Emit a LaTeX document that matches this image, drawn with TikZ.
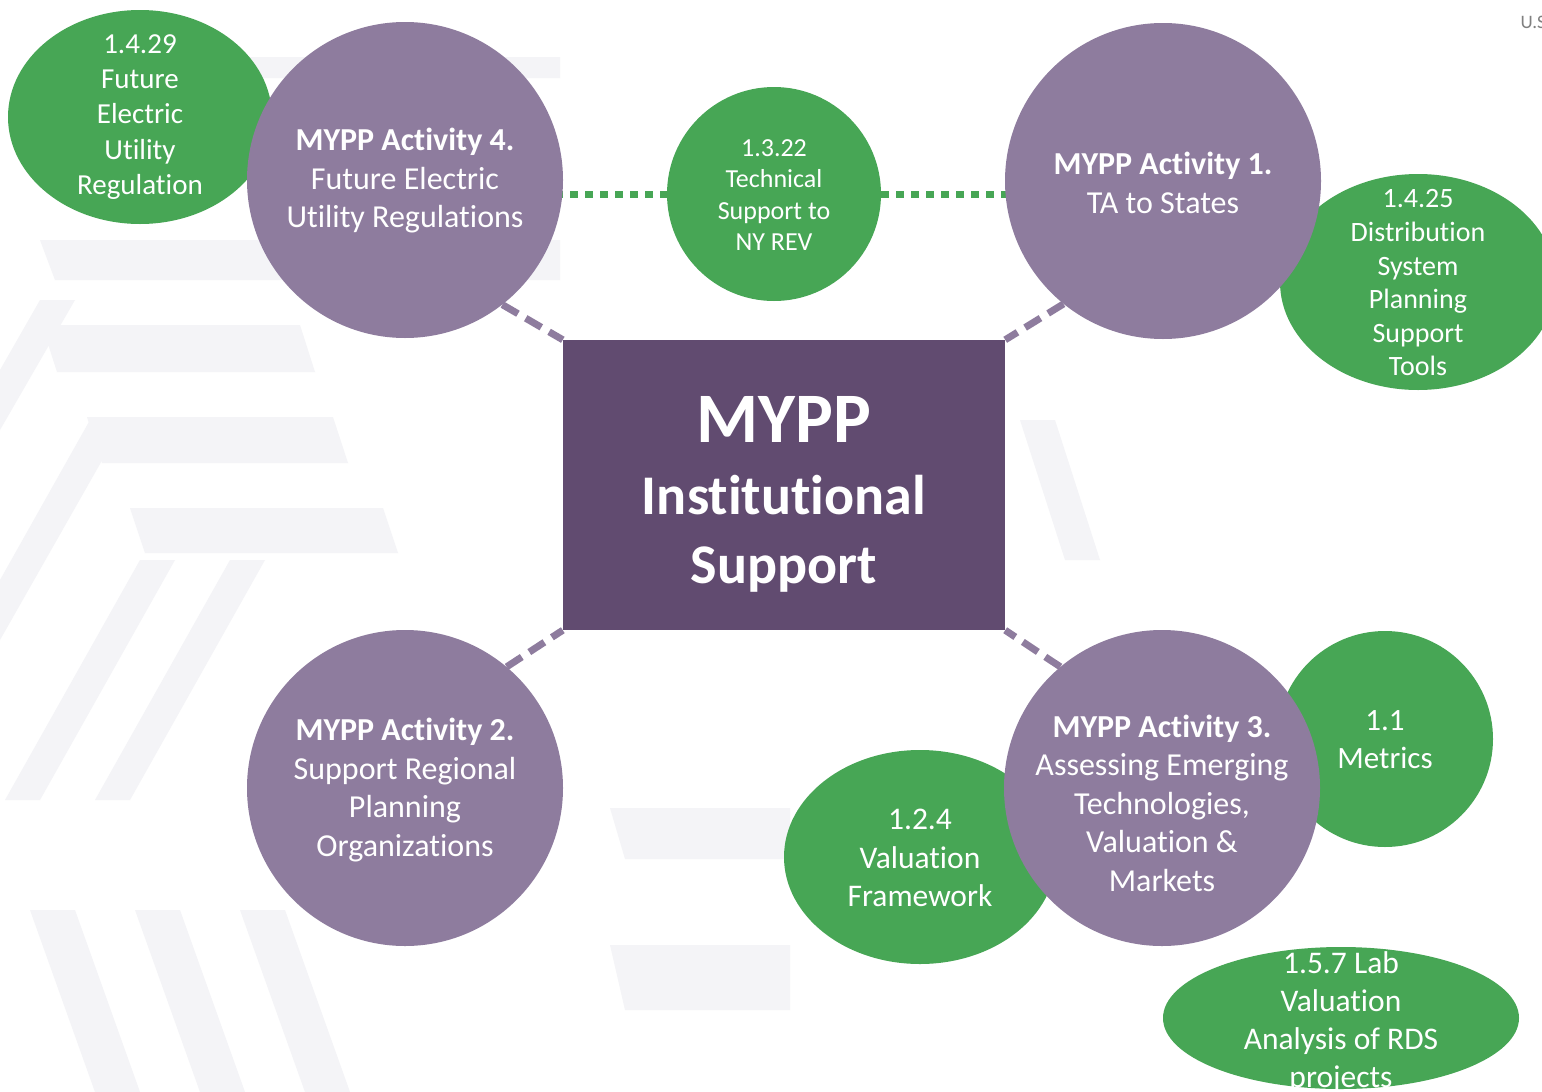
\documentclass[tikz,border=0pt]{standalone}
\usepackage{fontspec}
\setmainfont[Ligatures={NoCommon}]{Carlito}
\usetikzlibrary{shapes.geometric}
\definecolor{rectpurple}{RGB}{97,75,112}
\definecolor{circpurple}{RGB}{142,124,158}
\definecolor{leafgreen}{RGB}{71,166,85}
\definecolor{bgstripe}{RGB}{244,244,247}
\pgfdeclarelayer{bgl}
\pgfdeclarelayer{connl}
\pgfsetlayers{bgl,connl,main}
\begin{document}
\begin{tikzpicture}[x=1pt,y=-1pt,
  actc/.style={circle, fill=circpurple, minimum size=316pt, inner sep=0pt},
  leaf/.style={ellipse, fill=leafgreen, inner sep=0pt},
  acttxt/.style={text=white, align=center, font=\fontsize{32}{38.5}\selectfont},
  leaftxt/.style={text=white, align=center},
  purpdash/.style={draw=circpurple, line width=7pt, dash pattern=on 18pt off 9pt},
  greendot/.style={draw=leafgreen, line width=7pt, dash pattern=on 8pt off 7pt},
  stripe/.style={fill=bgstripe, draw=none}
]
\useasboundingbox (0,0) rectangle (1542,1092);

% faint background pattern
\begin{pgfonlayer}{bgl}
\fill[white] (0,0) rectangle (1542,1092);
\fill[stripe] (42,325) -- (300,325) -- (315,372) -- (57,372) -- cycle;
\fill[stripe] (87,417) -- (333,417) -- (348,463) -- (102,463) -- cycle;
\fill[stripe] (130,508) -- (383,508) -- (398,553) -- (145,553) -- cycle;
\fill[stripe] (40,300) -- (75,300) -- (0,430) -- (0,370) -- cycle;
\fill[stripe] (90,420) -- (125,420) -- (0,640) -- (0,580) -- cycle;
\fill[stripe] (140,560) -- (175,560) -- (40,800) -- (5,800) -- cycle;
\fill[stripe] (230,560) -- (265,560) -- (130,800) -- (95,800) -- cycle;
\fill[stripe] (30,910) -- (75,910) -- (140,1092) -- (95,1092) -- cycle;
\fill[stripe] (135,910) -- (180,910) -- (245,1092) -- (200,1092) -- cycle;
\fill[stripe] (240,910) -- (285,910) -- (350,1092) -- (305,1092) -- cycle;
\fill[stripe] (610,808) -- (790,808) -- (790,859) -- (625,859) -- cycle;
\fill[stripe] (610,945) -- (790,945) -- (790,1010) -- (625,1010) -- cycle;
\fill[stripe] (40,240) -- (560,240) -- (560,280) -- (55,280) -- cycle;
\fill[stripe] (233,57) -- (560,57) -- (560,78) -- (240,78) -- cycle;
\fill[stripe] (1020,420) -- (1055,420) -- (1100,560) -- (1065,560) -- cycle;
\end{pgfonlayer}

% green satellites
\node[leaf, minimum width=264pt, minimum height=214pt] (l1) at (140,117) {};
\node[leaf, minimum width=214pt, minimum height=214pt] (l3) at (774,194) {};
\node[leaf, minimum width=276pt, minimum height=216pt] (l2) at (1418,282) {};
\node[leaf, minimum width=216pt, minimum height=216pt] (l4) at (1385,739) {};
\node[leaf, minimum width=272pt, minimum height=214pt] (l5) at (920,857) {};
\node[leaf, minimum width=356pt, minimum height=142pt] (l6) at (1341,1018) {};

% purple activity circles
\node[actc] (a4) at (405,180) {};
\node[actc] (a1) at (1163,181) {};
\node[actc] (a2) at (405,788) {};
\node[actc] (a3) at (1162,788) {};

% central box
\node[rectangle, fill=rectpurple, minimum width=442pt, minimum height=290pt, inner sep=0pt] (c) at (784,485) {};

% connectors
\begin{pgfonlayer}{connl}
\draw[purpdash] (a4.-52) -- (c.north west);
\draw[purpdash] (a1.-129) -- (c.north east);
\draw[purpdash] (a2.50) -- (c.south west);
\draw[purpdash] (a3.130) -- (c.south east);
\draw[greendot] (a4 |- l3) -- (l3);
\draw[greendot] (l3) -- (a1 |- l3);
\end{pgfonlayer}

% texts
\node[font=\bfseries\fontsize{71}{72}\selectfont, text=white, anchor=base] (t1) at (784,442) {MYPP};
\node[font=\bfseries\fontsize{56}{60}\selectfont, text=white, anchor=base] (t2) at (784,514) {Institutional};
\node[font=\bfseries\fontsize{56}{60}\selectfont, text=white, anchor=base] (t3) at (784,583) {Support};

\node[acttxt] (a4t) at (405,181) {\textbf{MYPP Activity 4.}\\Future Electric\\Utility Regulations};
\node[acttxt] (a1t) at (1163,183) {\textbf{MYPP Activity 1.}\\TA to States};
\node[acttxt] (a2t) at (405,790) {\textbf{MYPP Activity 2.}\\Support Regional\\Planning\\Organizations};
\node[acttxt] (a3t) at (1162,803) {\textbf{MYPP Activity 3.}\\Assessing Emerging\\Technologies,\\Valuation \&\\Markets};

\node[leaftxt, font=\fontsize{29}{35.3}\selectfont] (l1t) at (140,117) {1.4.29\\Future\\Electric\\Utility\\Regulation};
\node[leaftxt, font=\fontsize{26}{31.3}\selectfont] (l3t) at (774,195) {1.3.22\\Technical\\Support to\\NY REV};
\node[leaftxt, font=\fontsize{28}{33.6}\selectfont] (l2t) at (1418,283) {1.4.25\\Distribution\\System\\Planning\\Support\\Tools};
\node[leaftxt, font=\fontsize{31}{38}\selectfont] (l4t) at (1385,740) {1.1\\Metrics};
\node[leaftxt, font=\fontsize{31.5}{38.5}\selectfont] (l5t) at (920,858) {1.2.4\\Valuation\\Framework};
\node[leaftxt, font=\fontsize{31.5}{38}\selectfont] (l6t) at (1341,1022) {1.5.7 Lab\\Valuation\\Analysis of RDS\\projects};

\node[font=\fontsize{19}{19}\selectfont, text=gray, anchor=west] (us) at (1517,22) {U.S};
\end{tikzpicture}
\end{document}
